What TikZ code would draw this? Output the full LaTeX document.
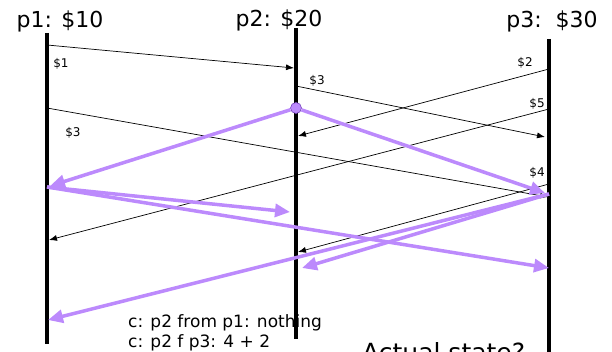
\documentclass[tikz,border=0pt]{standalone}
\usepackage{fontspec}
\setmainfont{DejaVu Sans}
\usetikzlibrary{arrows.meta}
\definecolor{snapcol}{RGB}{188,138,252}
\definecolor{markcol}{RGB}{120,70,190}

\begin{document}
\begin{tikzpicture}[x=1pt, y=-1pt, every node/.style={inner sep=0pt},
  proc/.style={line width=4pt},
  msg/.style={-{Latex[length=8pt,width=6pt]}, line width=0.7pt},
  snap/.style={-{Triangle[length=15pt,width=13pt]}, line width=3.5pt, draw=snapcol},
  amt/.style={font=\fontsize{12}{14}\selectfont}]
  \useasboundingbox (0,0) rectangle (612,352);
  % processes
  \foreach \p/\x/\top/\bot in {p1/47/33/344, p2/296/28/339, p3/549/39/352} {
    \coordinate (\p top) at (\x,\top);
    \coordinate (\p bot) at (\x,\bot);
    \draw[proc] (\p top) -- (\p bot);
  }
  \node[anchor=base, font=\fontsize{22}{26}\selectfont] (t1) at (60,28) {p1: \$10};
  \node[anchor=base, font=\fontsize{22}{26}\selectfont] (t2) at (279,27) {p2: \$20};
  \node[anchor=base, font=\fontsize{22}{26}\selectfont] (t3) at (552,28) {p3:\ \ \$30};
  % send and receive events
  \foreach \n/\x/\y in {s1/47/45, r1/294/68, s2/47/108, r2/548/197,
                        s3/296/86, r3/545/137, s4/549/69, r4/298/136,
                        s5/549/109, r5/49/240, s6/549/184, r6/298/252}
    \coordinate (\n) at (\x,\y);
  % money in transit
  \foreach \i in {1,...,6}
    \draw[msg] (s\i) -- (r\i);
  \node[amt] (a1) at (61,64) {\$1};
  \node[amt] (a2) at (73,133) {\$3};
  \node[amt] (a3) at (317,81) {\$3};
  \node[amt] (a4) at (525,63) {\$2};
  \node[amt] (a5) at (537,104) {\$5};
  \node[amt] (a6) at (537,173) {\$4};
  % snapshot markers
  \coordinate (q1) at (47,187);
  \coordinate (q3) at (549,194);
  \coordinate (m1) at (50,186);
  \coordinate (m2) at (545,193);
  \coordinate (m3) at (290,212);
  \coordinate (m4) at (549,268);
  \coordinate (m5) at (302,268);
  \coordinate (m6) at (48,320);
  \node[circle, minimum size=11pt, fill=snapcol, draw=markcol, line width=0.6pt] (c) at (296,108) {};
  \draw[snap] (c) -- (m1);
  \draw[snap] (c) -- (m2);
  \draw[snap] (q1) -- (m3);
  \draw[snap] (q1) -- (m4);
  \draw[snap] (q3) -- (m5);
  \draw[snap] (q3) -- (m6);
  % notes
  \node[anchor=base west, font=\fontsize{17}{20}\selectfont] (n1) at (128,327) {c: p2 from p1: nothing};
  \node[anchor=base west, font=\fontsize{17}{20}\selectfont] (n2) at (128,347) {c: p2 f p3: 4 + 2};
  \node[anchor=base west, font=\fontsize{25}{30}\selectfont] (n3) at (362,361) {Actual state?};
\end{tikzpicture}
\end{document}
